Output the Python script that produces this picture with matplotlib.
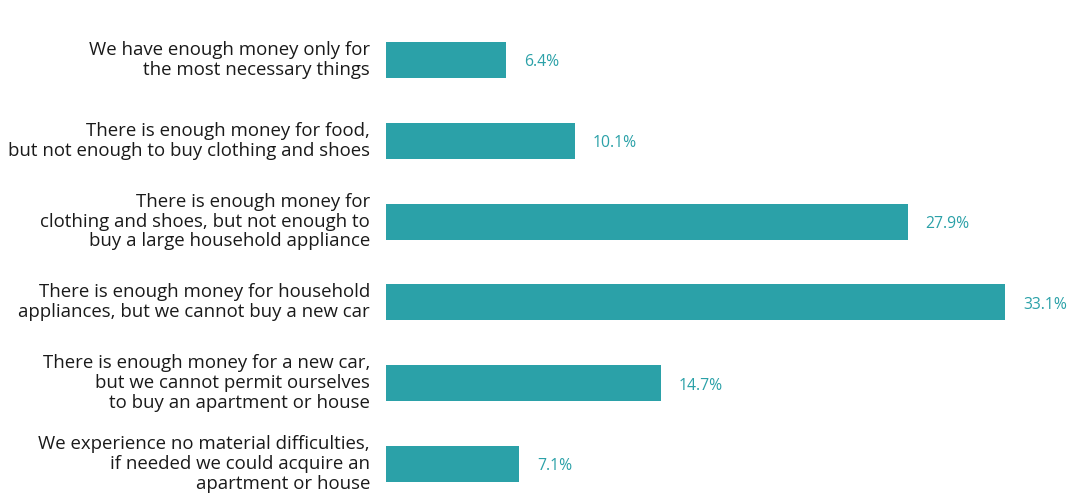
import matplotlib
matplotlib.use("Agg")
import matplotlib.pyplot as plt

categories = [
    "We have enough money only for\nthe most necessary things",
    "There is enough money for food,\nbut not enough to buy clothing and shoes",
    "There is enough money for\nclothing and shoes, but not enough to\nbuy a large household appliance",
    "There is enough money for household\nappliances, but we cannot buy a new car",
    "There is enough money for a new car,\nbut we cannot permit ourselves\nto buy an apartment or house",
    "We experience no material difficulties,\nif needed we could acquire an\napartment or house",
]
values = [6.4, 10.1, 27.9, 33.1, 14.7, 7.1]

bar_color = "#2ba1a8"
plt.rcParams["font.family"] = ["Open Sans", "DejaVu Sans"]

W, H = 1070, 496
fig = plt.figure(figsize=(W / 100, H / 100), dpi=100)

left_px, right_px = 386, 1059
top_px, bottom_px = 19.6, 496
step_px = 80.8
px_per_unit = 18.7
ax = fig.add_axes([left_px / W, 1 - bottom_px / H,
                   (right_px - left_px) / W, (bottom_px - top_px) / H])

y = list(range(len(values)))
ax.barh(y, values, height=0.445, color=bar_color)
ax.set_xlim(0, (right_px - left_px) / px_per_unit)
ax.set_ylim(-0.5 + (bottom_px - top_px) / step_px, -0.5)

for yi, v in zip(y, values):
    ax.text(v + 18 / px_per_unit, yi + 2.5 / step_px, f"{v}%", va="center",
            ha="left", color=bar_color, fontsize=11.3, clip_on=False)

for yi, lab in zip(y, categories):
    ax.text(-16 / px_per_unit, yi, lab, va="center", ha="right",
            color="#1a1a1a", fontsize=13.4, linespacing=1.13, clip_on=False)

ax.set_axis_off()
fig.savefig("out.png", dpi=100)
